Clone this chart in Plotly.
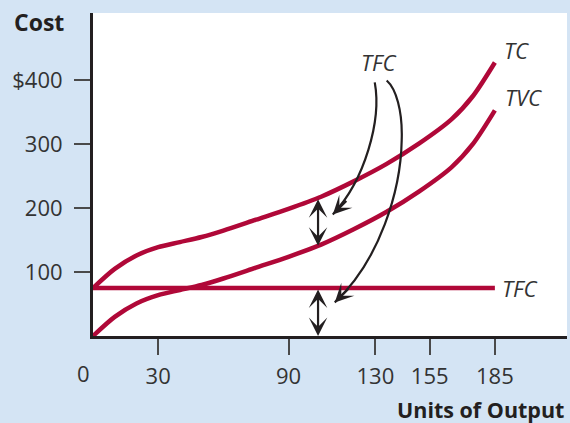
import numpy as np
import plotly.graph_objects as go

# Short-run cost curves
output = [0, 10, 20, 30, 40, 50, 60, 75, 90, 105, 120, 135, 150, 165, 175, 185]
tvc = [0, 30, 51, 64, 72, 80, 90, 107, 124, 143, 167, 194, 226, 264, 301, 353]
tfc_value = 75
tfc = [tfc_value for _ in output]
tc = [v + tfc_value for v in tvc]

x_tick_vals = [30, 90, 130, 155, 185]
x_tick_text = ["30", "90", "130", "155", "185"]
y_tick_vals = [100, 200, 300, 400]
y_tick_text = ["100", "200", "300", "$400"]

# output level where the fixed-cost gaps are marked
gap_x = 103.6

RED = "#b00838"
INK = "#231f20"
TEXT = "#333333"
FONT = "Open Sans"

fig = go.Figure()
for name, ys in (("TC", tc), ("TVC", tvc)):
    fig.add_trace(go.Scatter(x=output, y=ys, mode="lines", name=name,
                             line=dict(color=RED, width=4.5, shape="spline", smoothing=0.8),
                             hoverinfo="skip"))
fig.add_trace(go.Scatter(x=[output[0], output[-1]], y=[tfc[0], tfc[-1]], mode="lines", name="TFC",
                         line=dict(color=RED, width=4.5), hoverinfo="skip"))

tc_at_gap = float(np.interp(gap_x, output, tc))
tvc_at_gap = float(np.interp(gap_x, output, tvc))

annotations = []
# double-headed arrows showing the constant fixed cost
for lo, hi in ((tvc_at_gap, tc_at_gap), (0, tfc_value)):
    annotations.append(dict(x=gap_x, y=lo, ax=gap_x, ay=hi, xref="x", yref="y", axref="x", ayref="y",
                            text="", showarrow=True, arrowside="end+start", arrowhead=3,
                            startarrowhead=3, arrowsize=1.4, startarrowsize=1.4, arrowwidth=2.2,
                            arrowcolor=INK))

# curved pointers from the TFC caption
pointer_paths = [
    [(129.7, 396.9), (132.9, 337.4), (125.1, 243.5), (110.4, 190.3)],
    [(135.2, 399.8), (139.4, 387.3), (142.6, 353.0), (142.1, 306.1),
     (141.7, 227.9), (132.0, 118.3), (111.3, 52.6)],
]
shapes = []
for pts in pointer_paths:
    d = "M {},{}".format(*pts[0])
    for i in range(1, len(pts), 3):
        d += " C {},{} {},{} {},{}".format(*pts[i], *pts[i + 1], *pts[i + 2])
    shapes.append(dict(type="path", path=d, xref="x", yref="y",
                       line=dict(color=INK, width=2.2)))
    tip = pts[-1]
    annotations.append(dict(x=tip[0], y=tip[1], ax=15, ay=-15, xref="x", yref="y",
                            text="", showarrow=True, arrowhead=3, arrowsize=1.4,
                            arrowwidth=2.2, arrowcolor=INK))

label_font = dict(family=FONT, size=22, color=TEXT)
for txt, x, y, anchor in (("<i>TC</i>", 188.3, 448, "left"),
                          ("<i>TVC</i>", 188.8, 374, "left"),
                          ("<i>TFC</i>", 187.4, tfc_value, "left"),
                          ("<i>TFC</i>", 131.2, 429, "center")):
    annotations.append(dict(x=x, y=y, xref="x", yref="y", text=txt, showarrow=False,
                            xanchor=anchor, yanchor="middle", font=label_font))

annotations.append(dict(x=0, y=-0.121, xref="x", yref="paper", text="0", showarrow=False,
                        xshift=-9.5, yshift=2, xanchor="center", yanchor="middle",
                        font=dict(family=FONT, size=22, color=TEXT)))
annotations.append(dict(x=-0.114, y=0.972, xref="paper", yref="paper", text="<b>Cost</b>",
                        showarrow=False, xanchor="center", yanchor="middle",
                        font=dict(family=FONT, size=23, color=INK)))
annotations.append(dict(x=0.998, y=-0.229, xref="paper", yref="paper", text="<b>Units of Output</b>",
                        showarrow=False, xanchor="right", yanchor="middle",
                        font=dict(family=FONT, size=21.5, color=INK)))

axis_common = dict(showline=True, linewidth=3, linecolor=INK, ticks="outside", ticklen=16,
                   tickwidth=2, tickcolor="#4a4a4a", showgrid=False, zeroline=False,
                   tickfont=dict(family=FONT, size=22, color=TEXT), fixedrange=True)

fig.update_layout(
    width=570, height=423,
    margin=dict(l=93, r=3, t=13, b=87),
    paper_bgcolor="#d4e4f4", plot_bgcolor="white",
    showlegend=False,
    xaxis=dict(range=[0, 218.2], tickvals=x_tick_vals, ticktext=x_tick_text,
               ticklabelstandoff=3, **axis_common),
    yaxis=dict(range=[0, 505.5], tickvals=y_tick_vals, ticktext=y_tick_text,
               ticklabelstandoff=7, **axis_common),
    shapes=shapes, annotations=annotations,
)

fig.write_html("out.html")
